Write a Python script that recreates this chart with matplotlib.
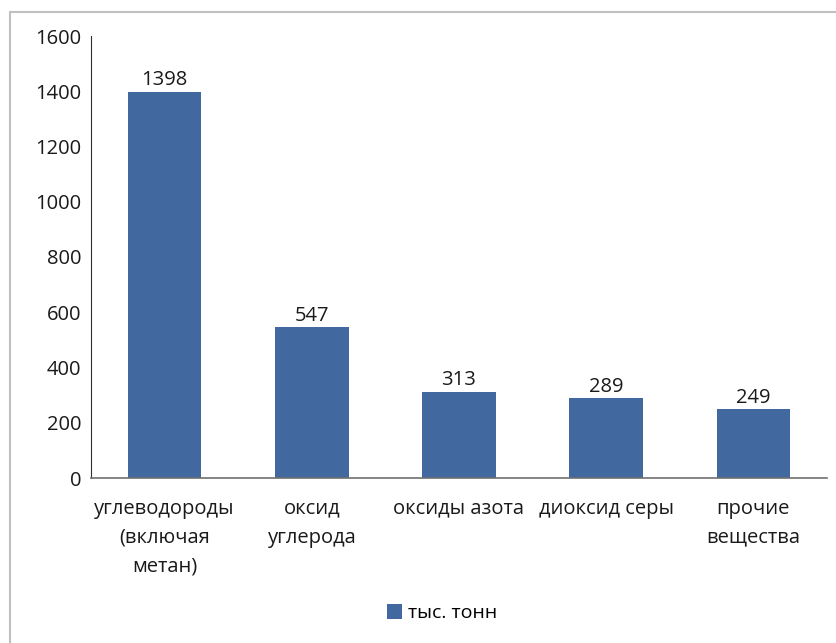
import matplotlib.pyplot as plt
from matplotlib.patches import Rectangle

categories = ['углеводороды\n(включая\nметан)', 'оксид\nуглерода', 'оксиды азота',
              'диоксид серы', 'прочие\nвещества']
values = [1398, 547, 313, 289, 249]
series_name = 'тыс. тонн'
y_ticks = [0, 200, 400, 600, 800, 1000, 1200, 1400, 1600]

bar_color = '#41699f'
plt.rcParams['font.family'] = ['Open Sans', 'DejaVu Sans']

W, H = 837, 643
fig = plt.figure(figsize=(W / 100, H / 100), dpi=100)
fig.patch.set_facecolor('white')

# light frame around the chart area (right and bottom run off the image)
fig.patches.append(Rectangle((10 / W, -0.05), 1.2, 1 - 12 / H + 0.05, transform=fig.transFigure,
                             fill=False, edgecolor='#c0c0c0', linewidth=1.5))

ax = fig.add_axes([91 / W, 1 - 478 / H, 736 / W, (478 - 36) / H])
x = list(range(len(categories)))
bars = ax.bar(x, values, width=0.5, color=bar_color, label=series_name)
ax.set_xlim(-0.5, len(categories) - 0.5)
ax.set_ylim(0, 1600)
ax.set_yticks(y_ticks)
ax.set_xticks(x)
ax.set_xticklabels(categories, linespacing=1.6)
ax.tick_params(axis='both', length=0, labelsize=14.5, colors='#000000', labelcolor='#1a1a1a')
ax.tick_params(axis='y', pad=7)
ax.tick_params(axis='x', pad=15)

for side in ['top', 'right']:
    ax.spines[side].set_visible(False)
ax.spines['left'].set_color('#303030')
ax.spines['bottom'].set_color('#707070')
ax.spines['bottom'].set_linewidth(1.2)

for b, v in zip(bars, values):
    ax.annotate(str(v), (b.get_x() + b.get_width() / 2, v), xytext=(0, 1),
                textcoords='offset points', ha='center', va='bottom',
                fontsize=14.5, color='#1a1a1a')

fig.legend(loc='center', bbox_to_anchor=(442 / W, 1 - 613 / H), frameon=False,
           fontsize=14, handlelength=0.8, handleheight=0.8, handletextpad=0.3)

fig.savefig('out.png', dpi=100)
